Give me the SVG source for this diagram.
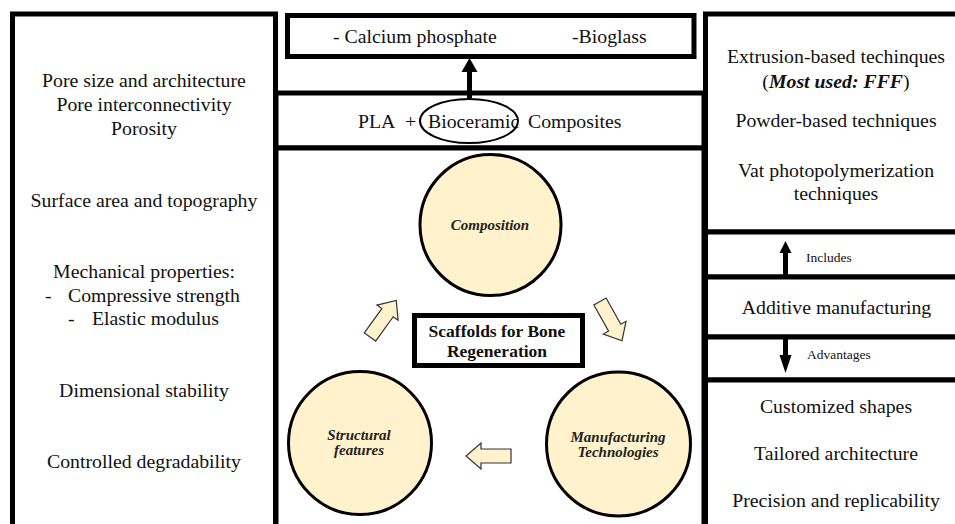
<svg xmlns="http://www.w3.org/2000/svg" width="955" height="524" viewBox="0 0 955 524">
<style>
.box{fill:#fff;stroke:#000;stroke-width:5}
.t{font-family:"Liberation Serif","Times New Roman",serif;font-size:19.8px;fill:#111}
.m{text-anchor:middle}
.s{font-family:"Liberation Serif","Times New Roman",serif;font-size:13.5px;fill:#111}
.ci{fill:#FFF2CC;stroke:#000;stroke-width:3}
.ct{font-family:"Liberation Serif","Times New Roman",serif;font-size:15px;font-weight:bold;font-style:italic;fill:#222;text-anchor:middle}
.ba{fill:#FFF2CC;stroke:#333;stroke-width:1.2}
.bi{font-weight:bold;font-style:italic}
</style>
<defs>
<path id="blk" d="M0,-7 L30,-7 L30,-13 L45,0 L30,13 L30,7 L0,7 Z"/>
</defs>
<rect width="955" height="524" fill="#fff"/>

<g id="left-panel">
<rect class="box" x="12.5" y="14" width="263" height="530"/>
<text class="t m" x="144" y="87">Pore size and architecture</text>
<text class="t m" x="144" y="111">Pore interconnectivity</text>
<text class="t m" x="144" y="135">Porosity</text>
<text class="t m" x="144" y="207">Surface area and topography</text>
<text class="t m" x="144" y="278">Mechanical properties:</text>
<text class="t" x="45" y="302">-</text>
<text class="t" x="68" y="302">Compressive strength</text>
<text class="t" x="68" y="325">-</text>
<text class="t" x="92" y="325">Elastic modulus</text>
<text class="t m" x="144" y="397">Dimensional stability</text>
<text class="t m" x="144" y="468">Controlled degradability</text>
</g>

<g id="bioceramic-types">
<rect class="box" x="287.5" y="15.5" width="406.5" height="41"/>
<text class="t" x="333" y="43">- Calcium phosphate</text>
<text class="t" x="572" y="43">-Bioglass</text>
</g>

<g id="pla-composites">
<rect class="box" x="276" y="93" width="428" height="55"/>
<text class="t" x="358" y="128">PLA</text>
<text class="t" x="405" y="128">+</text>
<text class="t" x="428" y="128">Bioceramic</text>
<text class="t" x="528" y="128">Composites</text>
<ellipse cx="469" cy="121" rx="49" ry="22" fill="none" stroke="#000" stroke-width="2"/>
</g>

<g id="center-panel">
<rect class="box" x="276" y="148" width="428" height="400"/>
</g>

<g id="composition">
<circle class="ci" cx="490.5" cy="225" r="70.5"/>
<text class="ct" x="490" y="230">Composition</text>
</g>

<g id="structural-features">
<circle class="ci" cx="360" cy="443" r="71.5"/>
<text class="ct" x="359" y="440">Structural</text>
<text class="ct" x="359" y="455">features</text>
</g>

<g id="manufacturing-technologies">
<circle class="ci" cx="618.5" cy="444" r="72"/>
<text class="ct" x="618" y="442">Manufacturing</text>
<text class="ct" x="618" y="457">Technologies</text>
</g>

<g id="scaffolds">
<rect class="box" x="414.5" y="315.5" width="168" height="50"/>
<text class="m" x="497" y="337" font-family="Liberation Serif, Times New Roman, serif" font-size="17.5" font-weight="bold" fill="#111">Scaffolds for Bone</text>
<text class="m" x="497" y="357" font-family="Liberation Serif, Times New Roman, serif" font-size="17.5" font-weight="bold" fill="#111">Regeneration</text>
</g>

<g id="am-techniques">
<rect class="box" x="705.5" y="14" width="260" height="218"/>
<text class="t m" x="836" y="63">Extrusion-based techinques</text>
<text class="t m" x="836" y="88">(<tspan class="bi">Most used: FFF</tspan>)</text>
<text class="t m" x="836" y="127">Powder-based techniques</text>
<text class="t m" x="836" y="177">Vat photopolymerization</text>
<text class="t m" x="836" y="200">techniques</text>
</g>

<g id="includes">
<rect class="box" x="705.5" y="232" width="260" height="45"/>
<text class="s" x="806" y="262">Includes</text>
</g>

<g id="additive-manufacturing">
<rect class="box" x="705.5" y="277" width="260" height="60"/>
<text class="t m" x="836.5" y="314">Additive manufacturing</text>
</g>

<g id="advantages">
<rect class="box" x="705.5" y="337" width="260" height="43"/>
<text class="s" x="807" y="359">Advantages</text>
</g>

<g id="advantages-list">
<rect class="box" x="705.5" y="380" width="260" height="160"/>
<text class="t m" x="836" y="413">Customized shapes</text>
<text class="t m" x="836" y="460">Tailored architecture</text>
<text class="t m" x="836" y="507">Precision and replicability</text>
</g>

<g id="connectors">
<path d="M469.5,98 V71" stroke="#000" stroke-width="5" fill="none"/>
<path d="M461.5,72 L469.5,58 L477.5,72 Z" fill="#000"/>
<path d="M785.5,277 V252" stroke="#000" stroke-width="5" fill="none"/>
<path d="M779.5,253 L785.5,241 L791.5,253 Z" fill="#000"/>
<path d="M785.5,338 V357" stroke="#000" stroke-width="5" fill="none"/>
<path d="M779.5,355 L785.5,373 L791.5,355 Z" fill="#000"/>
<use href="#blk" class="ba" transform="translate(370,337) rotate(-54.3)"/>
<use href="#blk" class="ba" transform="translate(600,301.5) rotate(60.7)"/>
<use href="#blk" class="ba" transform="translate(511,456) rotate(180)"/>
</g>
</svg>
